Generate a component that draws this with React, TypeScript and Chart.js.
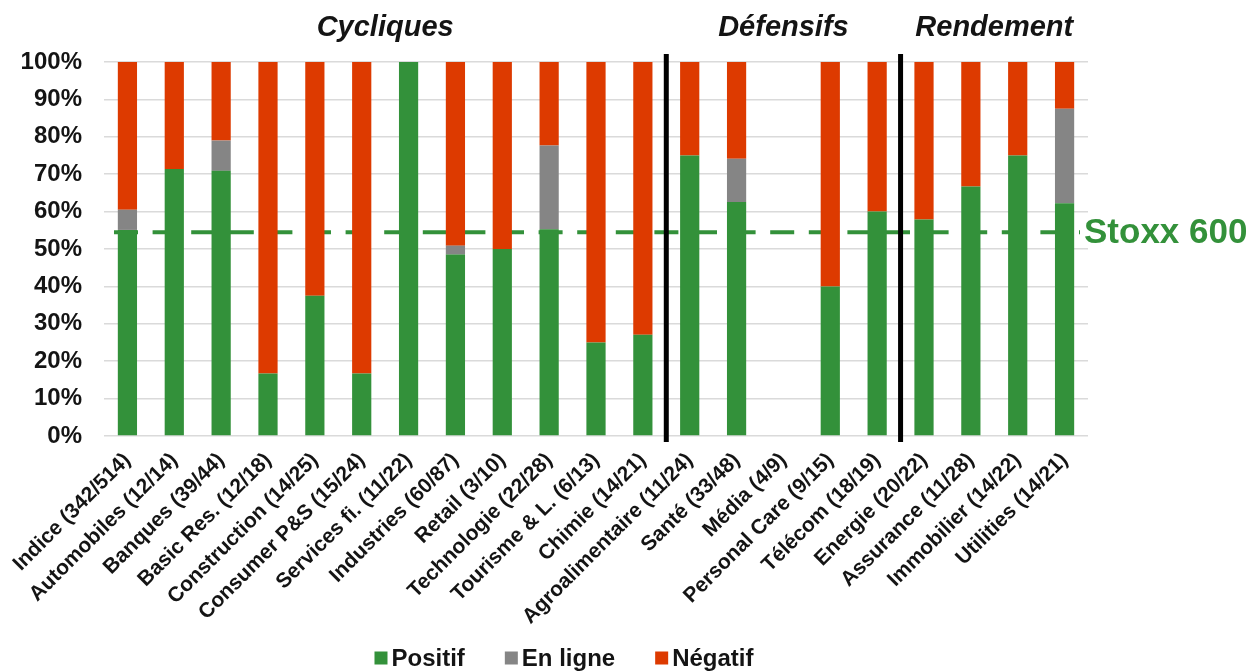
import { useEffect, useRef } from 'react';
import { Chart, registerables } from 'chart.js';

Chart.register(...registerables);

// Sectors with (companies reported / companies in sector)
const categories = [
  'Indice (342/514)',
  'Automobiles (12/14)',
  'Banques (39/44)',
  'Basic Res. (12/18)',
  'Construction (14/25)',
  'Consumer P&S (15/24)',
  'Services fi. (11/22)',
  'Industries (60/87)',
  'Retail (3/10)',
  'Technologie (22/28)',
  'Tourisme & L. (6/13)',
  'Chimie (14/21)',
  'Agroalimentaire (11/24)',
  'Santé (33/48)',
  'Média (4/9)',
  'Personal Care (9/15)',
  'Télécom (18/19)',
  'Energie (20/22)',
  'Assurance (11/28)',
  'Immobilier (14/22)',
  'Utilities (14/21)',
];

// Share of publications (%) by outcome
const positif = [55.1, 71.4, 70.9, 16.7, 37.5, 16.7, 100, 48.5, 50, 55.3, 25, 27.1, 75, 62.6, null, 40, 60, 57.9, 66.7, 75, 62.2];
const enLigne = [5.4, 0, 8.1, 0, 0, 0, 0, 2.4, 0, 22.4, 0, 0, 0, 11.5, null, 0, 0, 0, 0, 0, 25.3];
const negatif = [39.5, 28.6, 21.0, 83.3, 62.5, 83.3, 0, 49.1, 50, 22.3, 75, 72.9, 25, 25.9, null, 60, 40, 42.1, 33.3, 25, 12.5];

// Reference level for the whole index
const stoxxLabel = 'Stoxx 600';
const stoxxLevel = 54.5;

// Sector families and the index of their first / last category
const groupNames = ['Cycliques', 'Défensifs', 'Rendement'];
const groupFirst = [0, 12, 17];
const groupLast = [11, 16, 20];

const GREEN = '#33913a';
const GREY = '#858585';
const RED = '#dd3a00';
const TEXT = '#141414';
const FONT = "'Liberation Sans', Arial, sans-serif";

const overlay = {
  id: 'overlay',
  beforeDatasetsDraw(chart: any) {
    const { ctx, chartArea, scales } = chart;
    const yp = scales.y.getPixelForValue(stoxxLevel);
    ctx.save();
    ctx.strokeStyle = GREEN;
    ctx.lineWidth = 4;
    ctx.setLineDash([24, 14.6]);
    ctx.beginPath();
    ctx.moveTo(chartArea.left + 10, yp);
    ctx.lineTo(chartArea.right - 8, yp);
    ctx.stroke();
    ctx.restore();
  },
  afterDatasetsDraw(chart: any) {
    const { ctx, chartArea, scales } = chart;
    const x = scales.x;
    const y = scales.y;
    ctx.save();

    // vertical separators between families
    ctx.strokeStyle = '#000';
    ctx.lineWidth = 5;
    for (let g = 0; g < groupLast.length - 1; g++) {
      const i = groupLast[g];
      const xp = (x.getPixelForValue(i) + x.getPixelForValue(i + 1)) / 2;
      ctx.beginPath();
      ctx.moveTo(xp, chartArea.top - 8);
      ctx.lineTo(xp, chartArea.bottom + 6);
      ctx.stroke();
    }

    // family titles
    ctx.fillStyle = TEXT;
    ctx.font = `italic bold 29px ${FONT}`;
    ctx.textAlign = 'center';
    ctx.textBaseline = 'middle';
    groupNames.forEach((name, g) => {
      const xp = (x.getPixelForValue(groupFirst[g]) + x.getPixelForValue(groupLast[g])) / 2;
      ctx.fillText(name, xp, 28);
    });

    // index label on the right of the dashed line
    ctx.fillStyle = GREEN;
    ctx.font = `bold 35px ${FONT}`;
    ctx.textAlign = 'left';
    ctx.fillText(stoxxLabel, chartArea.right - 4, y.getPixelForValue(stoxxLevel) + 1);
    ctx.restore();
  },
  afterDraw(chart: any) {
    const { ctx } = chart;
    const items = chart.data.datasets.map((d: any) => ({ label: d.label, color: d.backgroundColor }));
    const box = 13;
    const gapText = 4;
    const gapItem = 40;
    ctx.save();
    ctx.font = `bold 24px ${FONT}`;
    const widths = items.map((it: any) => box + gapText + ctx.measureText(it.label).width);
    const total = widths.reduce((a: number, b: number) => a + b, 0) + gapItem * (items.length - 1);
    let cx = 564 - total / 2;
    const cy = 658;
    ctx.textAlign = 'left';
    ctx.textBaseline = 'middle';
    items.forEach((it: any, k: number) => {
      ctx.fillStyle = it.color;
      ctx.fillRect(cx, cy - box / 2, box, box);
      ctx.fillStyle = TEXT;
      ctx.fillText(it.label, cx + box + gapText, cy + 1);
      cx += widths[k] + gapItem;
    });
    ctx.restore();
  },
};

export default function App() {
  const ref = useRef<HTMLCanvasElement>(null);

  useEffect(() => {
    const chart = new Chart(ref.current as HTMLCanvasElement, {
      type: 'bar',
      data: {
        labels: categories,
        datasets: [
          { label: 'Positif', data: positif, backgroundColor: GREEN },
          { label: 'En ligne', data: enLigne, backgroundColor: GREY },
          { label: 'Négatif', data: negatif, backgroundColor: RED },
        ],
      },
      options: {
        responsive: false,
        animation: false,
        devicePixelRatio: 1,
        layout: { padding: { left: 0, right: 165, top: 62, bottom: 0 } },
        datasets: { bar: { categoryPercentage: 1, barPercentage: 0.41 } },
        plugins: {
          legend: { display: false },
          tooltip: { enabled: false },
        },
        scales: {
          x: {
            stacked: true,
            grid: { display: false },
            border: { display: false },
            afterFit: (s: any) => { s.height = 236; },
            ticks: {
              autoSkip: false,
              minRotation: 45,
              maxRotation: 45,
              padding: 4,
              color: TEXT,
              font: { family: FONT, size: 21, weight: 'bold' },
            },
          },
          y: {
            stacked: true,
            min: 0,
            max: 100,
            afterFit: (s: any) => { s.width = 104; },
            grid: { color: '#dadada', lineWidth: 1.5, drawTicks: false },
            border: { display: false },
            ticks: {
              stepSize: 10,
              padding: 22,
              color: TEXT,
              font: { family: FONT, size: 24, weight: 'bold' },
              callback: (v: any) => `${v}%`,
            },
          },
        },
      },
      plugins: [overlay],
    } as any);
    return () => chart.destroy();
  }, []);

  return (
    <div style={{ position: 'fixed', left: 0, top: 0, width: 1253, height: 672, background: '#fff' }}>
      <canvas ref={ref} width={1253} height={672} style={{ display: 'block' }} />
    </div>
  );
}
